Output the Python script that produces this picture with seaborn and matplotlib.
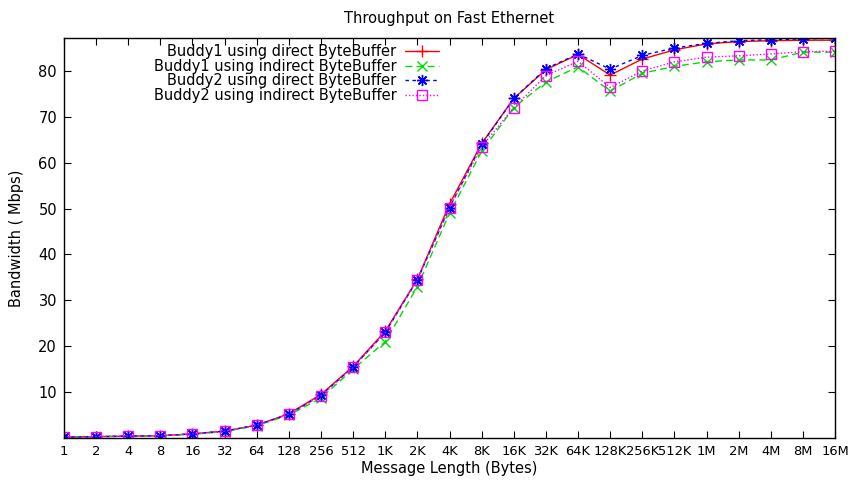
import numpy as np
import pandas as pd
import seaborn as sns
import matplotlib
matplotlib.use('Agg')
import matplotlib.pyplot as plt

sizes = [2 ** i for i in range(25)]
size_labels = ['1', '2', '4', '8', '16', '32', '64', '128', '256', '512',
               '1K', '2K', '4K', '8K', '16K', '32K', '64K', '128K', '256K', '512K',
               '1M', '2M', '4M', '8M', '16M']

buddy1_direct = [0.2, 0.3, 0.4, 0.5, 0.9, 1.5, 2.8, 5.3, 9.5, 15.6, 23.3, 34.6, 51.0, 64.2, 74.0,
                 80.3, 83.6, 79.1, 82.6, 84.6, 85.9, 86.4, 86.6, 86.7, 86.7]
buddy1_indirect = [0.2, 0.3, 0.4, 0.5, 0.8, 1.4, 2.7, 5.0, 8.7, 15.0, 21.0, 33.0, 49.0, 62.5, 72.0,
                   77.6, 80.9, 75.6, 79.5, 81.0, 82.0, 82.4, 82.4, 84.1, 84.1]
buddy2_direct = [0.2, 0.3, 0.4, 0.5, 0.9, 1.5, 2.8, 5.2, 9.3, 15.5, 23.0, 34.5, 50.2, 64.0, 74.0,
                 80.5, 83.7, 80.4, 83.4, 85.0, 86.0, 86.6, 86.8, 87.0, 87.1]
buddy2_indirect = [0.2, 0.3, 0.4, 0.5, 0.9, 1.5, 2.8, 5.2, 9.2, 15.4, 23.0, 34.5, 50.2, 63.5, 72.0,
                   79.0, 82.1, 76.4, 80.0, 82.0, 83.0, 83.3, 83.7, 84.2, 84.3]

series = {
    'Buddy1 using direct ByteBuffer': buddy1_direct,
    'Buddy1 using indirect ByteBuffer': buddy1_indirect,
    'Buddy2 using direct ByteBuffer': buddy2_direct,
    'Buddy2 using indirect ByteBuffer': buddy2_indirect,
}
styles = [
    dict(color='#ff0000', linestyle='-', marker='+', markersize=8),
    dict(color='#00dd00', linestyle=(0, (5, 3)), marker='x', markersize=7),
    dict(color='#0000ff', linestyle=(0, (2.5, 2.5)), marker=(8, 2, 0), markersize=8),
    dict(color='#ff00ff', linestyle=(0, (1, 1.5)), marker='s', markersize=7,
         markerfacecolor='none'),
]

sns.set_style('ticks')
plt.rcParams['font.family'] = ['DejaVu Sans']
plt.rcParams.update({'text.color': 'black', 'axes.labelcolor': 'black',
                     'xtick.color': 'black', 'ytick.color': 'black'})

fig = plt.figure(figsize=(8.53, 4.8), dpi=100)
ax = fig.add_axes([0.075, 0.0875, 0.904, 0.8335])

for (name, vals), st in zip(series.items(), styles):
    df = pd.DataFrame({'size': sizes, 'bw': vals})
    sns.lineplot(data=df, x='size', y='bw', ax=ax, label=name, lw=1.0,
                 mec=st['color'], mew=1.0, **st)

ax.set_xscale('log', base=2)
ax.set_xticks(sizes)
ax.set_xticklabels(size_labels)
ax.minorticks_off()
ax.set_xlim(1, 2 ** 24)
ax.set_ylim(0, 87.2)
ax.set_yticks(range(10, 90, 10))
ax.tick_params(direction='in', top=True, right=True, length=5, width=0.8, pad=5)
ax.tick_params(axis='x', labelsize=9.4)
ax.tick_params(axis='y', labelsize=10.5)
for s in ax.spines.values():
    s.set_linewidth(1.0)
    s.set_color('black')

ax.set_title('Throughput on Fast Ethernet', fontsize=10.5, pad=11)
ax.set_xlabel('Message Length (Bytes)', fontsize=10.5, labelpad=2)
ax.set_ylabel('Bandwidth ( Mbps)', fontsize=10.5, labelpad=10)

ax.legend(loc='upper right', bbox_to_anchor=(0.501, 1.014), frameon=False,
          markerfirst=False, fontsize=10.5, handlelength=2.3, labelspacing=-0.02,
          handletextpad=0.6, borderpad=0.3)

fig.savefig('out.png', dpi=100)
